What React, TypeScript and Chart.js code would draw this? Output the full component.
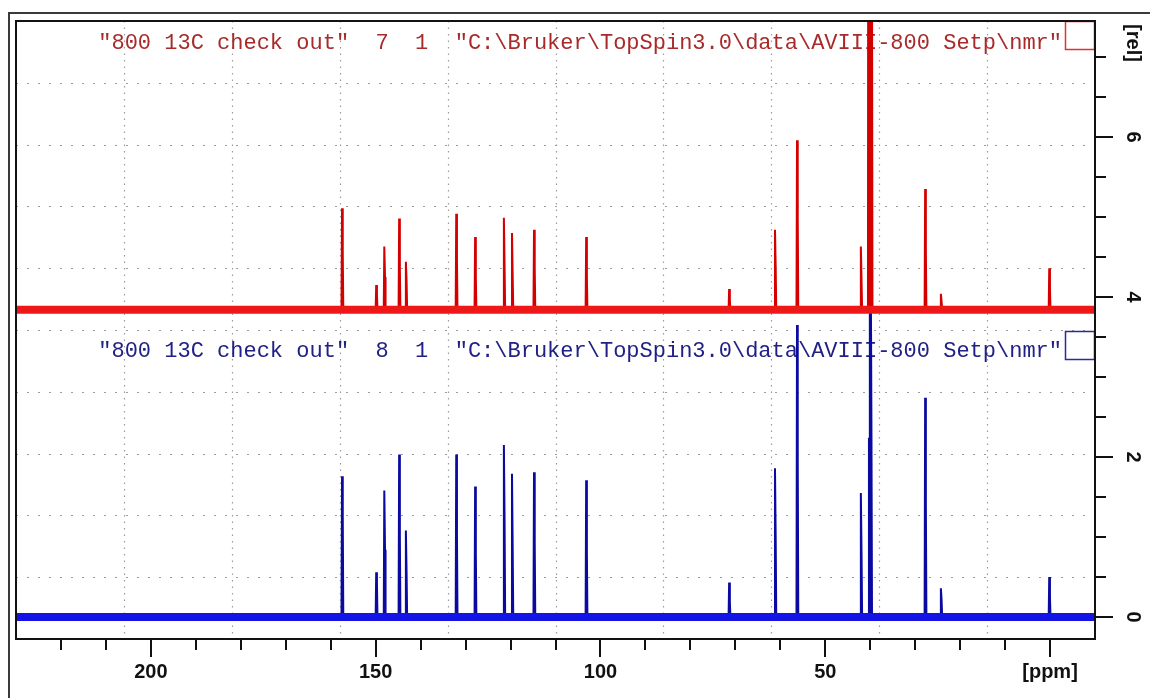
import React, { useEffect, useRef } from "react";
import { Chart, registerables } from "chart.js";

Chart.register(...registerables);

// ---- Data (ppm / rel. intensity) ----
const peakPpm = [157.4, 149.8, 148.0, 144.7, 143.2, 132.0, 127.8, 121.4, 119.6, 114.7, 103.1, 71.3, 61.1, 56.2, 42.0, 27.7, 24.2, 0.1];
const redPeakTop = [1.27, 0.31, 0.79, 1.14, 0.6, 1.2, 0.91, 1.15, 0.96, 1.0, 0.91, 0.26, 1.0, 2.12, 0.79, 1.51, 0.2, 0.52];
const redPeakShoulder = [0.72, 0.2, 0.41, 0.53, 0.35, 0.62, 0.41, 0.52, 0.41, 0.52, 0.41, 0.12, 0.52, 1.16, 0.35, 0.72, 0.1, 0.27];
const bluePeakTop = [1.76, 0.56, 1.58, 2.03, 1.08, 2.03, 1.63, 2.15, 1.79, 1.81, 1.71, 0.43, 1.86, 3.65, 1.55, 2.74, 0.36, 0.5];
const bluePeakShoulder = [1.28, 0.44, 0.84, 1.03, 0.53, 1.03, 0.81, 1.15, 0.84, 0.93, 0.81, 0.19, 0.96, 1.96, 0.75, 1.4, 0.21, 0.25];

// solvent (DMSO) multiplet
const solventPpm = [40.3, 40.0, 39.7];
const redSolventTop = [12, 12, 12];
const redSolventShoulder = [12, 12, 12];
const blueSolventPpm = [40.2, 40.0, 39.8];
const blueSolventTop = [2.24, 4.45, 4.45];
const blueSolventShoulder = [2.0, 4.45, 2.24];

const redOffset = 3.84;
const blueOffset = 0.0;

const X_MIN = -10;
const X_MAX = 230;
const Y_MIN = -0.275;
const Y_MAX = 7.45;

const xMajorTicks = [200, 150, 100, 50];
const xUnitTick = 0;
const xUnitLabel = "[ppm]";
const xTickStart = 220;
const xTickEnd = 0;
const xMinorStep = 10;
const yMajorTicks = [0, 2, 4, 6];
const yTickEnd = 7;
const yMinorStep = 0.5;
const yUnitLabel = "[rel]";

const redLegend = '"800 13C check out"  7  1  "C:\\Bruker\\TopSpin3.0\\data\\AVIII-800 Setp\\nmr"';
const blueLegend = '"800 13C check out"  8  1  "C:\\Bruker\\TopSpin3.0\\data\\AVIII-800 Setp\\nmr"';

function buildSpectrum(offset: number, ppm: number[], tops: number[], shoulders: number[]) {
  const order = ppm.map((_, i) => i).sort((a, b) => ppm[b] - ppm[a]);
  const pts: { x: number; y: number }[] = [{ x: X_MAX, y: offset }];
  for (const i of order) {
    const p = ppm[i];
    pts.push({ x: p + 0.2, y: offset });
    pts.push({ x: p + 0.08, y: offset + tops[i] });
    pts.push({ x: p - 0.08, y: offset + shoulders[i] });
    pts.push({ x: p - 0.2, y: offset });
  }
  pts.push({ x: X_MIN, y: offset });
  return pts;
}

const decor = {
  id: "nmrDecor",
  beforeDraw(chart: any) {
    const ctx = chart.ctx;
    ctx.save();
    ctx.fillStyle = "#ffffff";
    ctx.fillRect(0, 0, chart.width, chart.height);
    // outer window frame
    ctx.strokeStyle = "#3a3a3a";
    ctx.lineWidth = 2;
    ctx.beginPath();
    ctx.moveTo(9, chart.height);
    ctx.lineTo(9, 13);
    ctx.lineTo(chart.width, 13);
    ctx.stroke();
    ctx.restore();
  },
  beforeDatasetsDraw(chart: any) {
    const ctx = chart.ctx;
    const a = chart.chartArea;
    const w = a.right - a.left;
    const h = a.bottom - a.top;
    ctx.save();
    ctx.strokeStyle = "#9c9c9c";
    ctx.lineWidth = 1.2;
    for (let k = 1; k < 10; k++) {
      const x = Math.round(a.left + (w * k) / 10) + 0.5;
      ctx.setLineDash([1.5, 5]);
      ctx.beginPath();
      ctx.moveTo(x, a.top);
      ctx.lineTo(x, a.bottom);
      ctx.stroke();
    }
    for (let k = 1; k < 10; k++) {
      const y = Math.round(a.top + (h * k) / 10) + 0.5;
      ctx.setLineDash([2, 9]);
      ctx.beginPath();
      ctx.moveTo(a.left, y);
      ctx.lineTo(a.right, y);
      ctx.stroke();
    }
    ctx.setLineDash([]);
    // legend texts
    ctx.font = '22px "Liberation Mono", "DejaVu Sans Mono", monospace';
    ctx.textAlign = "right";
    ctx.textBaseline = "alphabetic";
    ctx.fillStyle = "#a82a2a";
    ctx.fillText(redLegend, a.right - 33, a.top + 28);
    ctx.fillStyle = "#202085";
    ctx.fillText(blueLegend, a.right - 33, a.top + 336);
    ctx.restore();
  },
  afterDatasetsDraw(chart: any) {
    const ctx = chart.ctx;
    const a = chart.chartArea;
    const xs = chart.scales.x;
    const ys = chart.scales.y;
    ctx.save();
    // legend boxes
    ctx.lineWidth = 1.5;
    ctx.strokeStyle = "#e03030";
    ctx.strokeRect(a.right - 29.5, a.top + 0.5, 29, 28);
    ctx.strokeStyle = "#2a2a9a";
    ctx.strokeRect(a.right - 29.5, a.top + 310.5, 29, 28);
    // plot frame
    ctx.strokeStyle = "#111111";
    ctx.lineWidth = 2;
    ctx.strokeRect(a.left, a.top, a.right - a.left, a.bottom - a.top);
    // x ticks
    ctx.lineWidth = 2;
    for (let v = xTickStart; v >= xTickEnd; v -= xMinorStep) {
      const px = Math.round(xs.getPixelForValue(v));
      const major = xMajorTicks.includes(v) || v === xUnitTick;
      ctx.beginPath();
      ctx.moveTo(px, a.bottom);
      ctx.lineTo(px, a.bottom + (major ? 18 : 11));
      ctx.stroke();
    }
    ctx.fillStyle = "#111111";
    ctx.font = 'bold 20px "Liberation Sans", Arial, sans-serif';
    ctx.textAlign = "center";
    ctx.textBaseline = "middle";
    for (const v of xMajorTicks) {
      ctx.fillText(String(v), xs.getPixelForValue(v), a.bottom + 33);
    }
    ctx.fillText(xUnitLabel, xs.getPixelForValue(xUnitTick), a.bottom + 33);
    // y ticks
    for (let v = 0; v <= yTickEnd + 1e-9; v += yMinorStep) {
      const py = Math.round(ys.getPixelForValue(v));
      const major = yMajorTicks.includes(v);
      ctx.beginPath();
      ctx.moveTo(a.right, py);
      ctx.lineTo(a.right + (major ? 18 : 11), py);
      ctx.stroke();
    }
    for (const v of yMajorTicks) {
      ctx.save();
      ctx.translate(a.right + 38, ys.getPixelForValue(v));
      ctx.rotate(Math.PI / 2);
      ctx.fillText(String(v), 0, 0);
      ctx.restore();
    }
    ctx.save();
    ctx.translate(a.right + 38, a.top + 22);
    ctx.rotate(Math.PI / 2);
    ctx.fillText(yUnitLabel, 0, 0);
    ctx.restore();
    ctx.restore();
  },
};

export default function App() {
  const canvasRef = useRef<HTMLCanvasElement | null>(null);

  useEffect(() => {
    if (!canvasRef.current) return;
    const redPeaks = buildSpectrum(
      redOffset,
      peakPpm.concat(solventPpm),
      redPeakTop.concat(redSolventTop),
      redPeakShoulder.concat(redSolventShoulder)
    );
    const bluePeaks = buildSpectrum(
      blueOffset,
      peakPpm.concat(blueSolventPpm),
      bluePeakTop.concat(blueSolventTop),
      bluePeakShoulder.concat(blueSolventShoulder)
    );
    const chart = new Chart(canvasRef.current, {
      type: "line",
      data: {
        datasets: [
          {
            data: [{ x: X_MAX, y: redOffset }, { x: X_MIN, y: redOffset }],
            borderColor: "#ee1818",
            borderWidth: 8,
            pointRadius: 0,
          },
          {
            data: redPeaks,
            borderColor: "#d40000",
            borderWidth: 2,
            pointRadius: 0,
          },
          {
            data: [{ x: X_MAX, y: blueOffset }, { x: X_MIN, y: blueOffset }],
            borderColor: "#1414e6",
            borderWidth: 8,
            pointRadius: 0,
          },
          {
            data: bluePeaks,
            borderColor: "#0a0aa0",
            borderWidth: 2,
            pointRadius: 0,
          },
        ],
      },
      options: {
        responsive: false,
        animation: false,
        devicePixelRatio: 1,
        layout: { padding: { left: 16, top: 21, right: 10, bottom: 9 } },
        elements: { line: { tension: 0 }, point: { radius: 0 } },
        plugins: { legend: { display: false }, tooltip: { enabled: false } },
        scales: {
          x: {
            type: "linear",
            reverse: true,
            min: X_MIN,
            max: X_MAX,
            grid: { display: false },
            border: { display: false },
            ticks: { display: false },
            afterFit: (s: any) => {
              s.height = 50;
            },
          },
          y: {
            type: "linear",
            position: "right",
            min: Y_MIN,
            max: Y_MAX,
            grid: { display: false },
            border: { display: false },
            ticks: { display: false },
            afterFit: (s: any) => {
              s.width = 45;
            },
          },
        },
      },
      plugins: [decor],
    });
    return () => chart.destroy();
  }, []);

  return (
    <div style={{ position: "absolute", left: 0, top: 0, width: 1150, height: 698, background: "#fff" }}>
      <canvas ref={canvasRef} width={1150} height={698} style={{ display: "block" }} />
    </div>
  );
}
